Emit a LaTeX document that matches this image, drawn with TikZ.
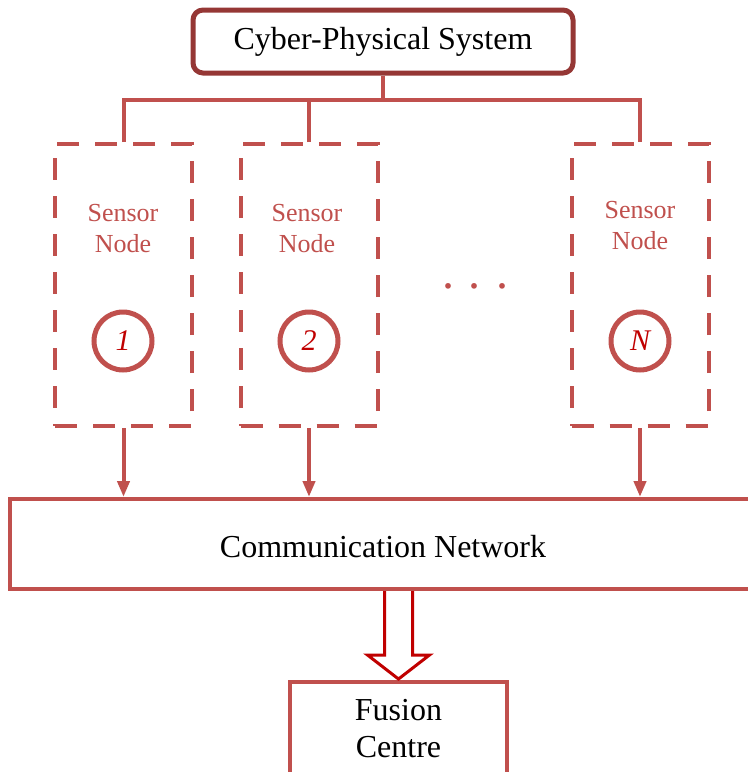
\documentclass[tikz,border=0pt]{standalone}
\usepackage{fontspec}
\setmainfont{Liberation Serif}
\usetikzlibrary{arrows.meta}
\definecolor{cpsred}{RGB}{149,55,53}
\definecolor{accred}{RGB}{192,80,77}
\definecolor{darkred}{RGB}{192,0,0}
\begin{document}
\begin{tikzpicture}[x=0.5pt,y=-0.5pt,
  cpsbox/.style={draw=cpsred,line width=2.5pt,rounded corners=5pt,minimum width=190pt,minimum height=31.5pt,inner sep=0pt,font=\fontsize{16}{19}\selectfont},
  sensorbox/.style={draw=accred,line width=2pt,dash pattern=on 11pt off 8pt,minimum width=68.5pt,minimum height=141pt,inner sep=0pt},
  sensorlbl/.style={text=accred,align=center,inner sep=0pt,font=\fontsize{13}{15.5}\selectfont},
  numcirc/.style={circle,draw=accred,line width=2.5pt,minimum size=29pt,inner sep=0pt,text=darkred,font=\fontsize{15}{18}\selectfont\itshape},
  plainbox/.style={draw=accred,line width=2pt,inner sep=0pt},
  blacklbl/.style={align=center,inner sep=0pt,font=\fontsize{16}{18.5}\selectfont},
  tree/.style={draw=accred,line width=2pt},
  feed/.style={draw=accred,line width=2pt,-{Triangle[width=6pt,length=8pt]}},
  hollow/.style={draw=darkred,line width=1.5pt,fill=white,line join=miter}
]
\useasboundingbox (0,0) rectangle (748,772);
\clip (0,0) rectangle (748,772);

\node[cpsbox] (cps) at (383,41.5) {Cyber-Physical System};

\node[sensorbox] (s1) at (123.5,285) {};
\node[sensorbox] (s2) at (309,285) {};
\node[sensorbox] (sN) at (640,285) {};

\node[sensorlbl] (l1) at (123,228.5) {Sensor\\Node};
\node[sensorlbl] (l2) at (307,228.5) {Sensor\\Node};
\node[sensorlbl] (lN) at (640,226) {Sensor\\Node};

\node[numcirc] (c1) at (123,341) {1};
\node[numcirc] (c2) at (309,341) {2};
\node[numcirc] (cN) at (640,341) {N};

\node[text=accred,inner sep=0pt,font=\fontsize{24}{26}\selectfont] (dots) at (475,286) {.\hspace{7.5pt}.\hspace{7.5pt}.};

\node[plainbox,minimum width=373pt,minimum height=45pt] (comm) at (383,544) {};
\node[blacklbl] (commlbl) at (383,547) {Communication Network};

\node[plainbox,minimum width=108.5pt,minimum height=59pt] (fusion) at (398.5,740.5) {};
\node[blacklbl] (fusionlbl) at (398.5,729) {Fusion\\Centre};

\coordinate (bus) at (383,100);
\draw[tree] (cps.south) -- (bus);
\draw[tree] (s1.north) |- (bus) -| (sN.north);
\draw[tree] (s2.north) -- (s2.north |- bus);

\draw[feed] (s1.south) -- (s1.south |- comm.north);
\draw[feed] (s2.south) -- (s2.south |- comm.north);
\draw[feed] (sN.south) -- (sN.south |- comm.north);

\coordinate (hs) at (fusion.north |- comm.south);
\draw[hollow] (hs) ++(-14,0) -- ++(0,64) -- ++(-17,0) -- ++(31,24) -- ++(31,-24) -- ++(-17,0) -- ++(0,-64);
\end{tikzpicture}
\end{document}
